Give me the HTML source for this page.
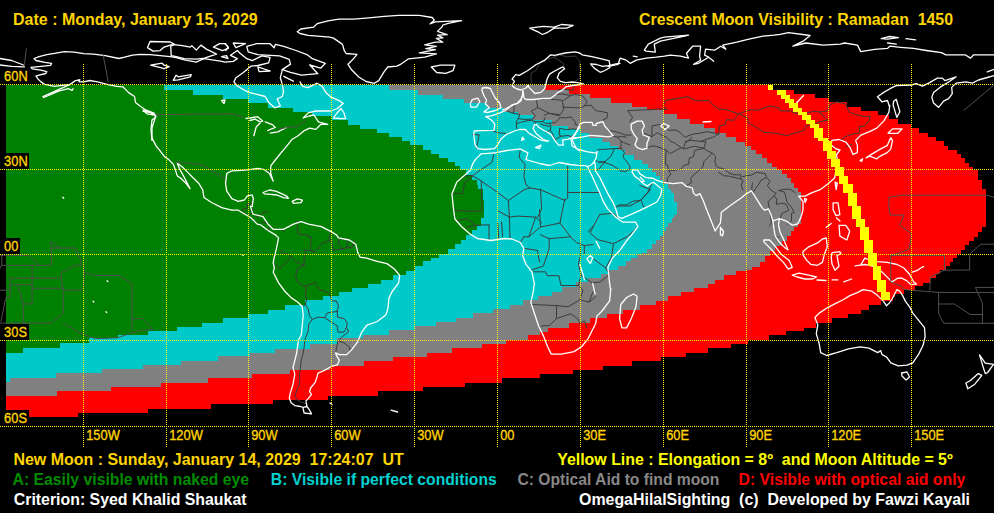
<!DOCTYPE html>
<html><head><meta charset="utf-8"><style>
html,body{margin:0;padding:0;background:#000;}
body{width:994px;height:513px;overflow:hidden;}
svg{display:block;}
text{font-family:"Liberation Sans",sans-serif;}
.t{font-size:16px;font-weight:bold;}
.lab{font-size:14px;fill:#ffd400;stroke:#ffd400;stroke-width:0.35;}
.w{stroke:#ffffff;stroke-width:1.3;}
.g{stroke:#505050;stroke-width:1;}
.b{stroke:#3c3c3c;stroke-width:1;}
</style></head><body>
<svg width="994" height="513" viewBox="0 0 994 513">
<rect width="994" height="513" fill="#000"/>
<g shape-rendering="crispEdges">
<polygon points="6,85 772,85 772,90 794,90 794,94 815,94 815,98 829,98 829,102 847,102 847,107 861,107 861,111 878,111 878,115 889,115 889,119 898,119 898,124 911,124 911,128 919,128 919,133 928,133 928,137 936,137 936,141 944,141 944,146 948,146 948,150 957,150 957,154 961,154 961,158 965,158 965,163 969,163 969,167 973,167 973,170 978,170 978,180 982,180 982,189 986,189 986,227 982,227 982,232 978,232 978,237 974,237 974,241 969,241 969,245 965,245 965,250 961,250 961,254 957,254 957,258 953,258 953,262 950,262 950,266 946,266 946,270 940,270 940,274 936,274 936,278 930,278 930,283 923,283 923,286 915,286 915,290 904,290 904,294 895,294 895,297 893,297 893,301 881,301 881,305 869,305 869,310 861,310 861,314 848,314 848,318 832,318 832,323 816,323 816,328 804,328 804,331 786,331 786,335 769,335 769,340 748,340 748,344 731,344 731,348 708,348 708,353 686,353 686,357 661,357 661,361 632,361 632,366 603,366 603,370 573,370 573,374 540,374 540,378 502,378 502,383 465,383 465,387 423,387 423,391 378,391 378,396 328,396 328,400 273,400 273,404 211,404 211,409 148,409 148,413 78,413 78,417 6,417" fill="#ff0000"/>
<polygon points="6,85 545,85 545,90 569,90 569,94 590,94 590,98 611,98 611,103 632,103 632,107 647,107 647,110 664,110 664,114 677,114 677,119 690,119 690,124 704,124 704,128 715,128 715,133 726,133 726,137 736,137 736,142 745,142 745,146 751,146 751,150 756,150 756,154 762,154 762,158 767,158 767,163 772,163 772,167 777,167 777,170 782,170 782,174 787,174 787,178 791,178 791,183 794,183 794,188 798,188 798,192 801,192 801,224 798,224 798,227 794,227 794,231 791,231 791,236 787,236 787,241 782,241 782,246 775,246 775,251 770,251 770,256 765,256 765,262 760,262 760,267 752,267 752,270 746,270 746,271 736,271 736,275 724,275 724,280 715,280 715,284 708,284 708,288 694,288 694,292 681,292 681,296 668,296 668,301 656,301 656,305 640,305 640,310 623,310 623,314 607,314 607,318 590,318 590,323 569,323 569,328 548,328 548,332 540,332 540,335 528,335 528,340 506,340 506,344 482,344 482,348 452,348 452,353 427,353 427,357 393,357 393,361 364,361 364,366 330,366 330,370 290,370 290,374 252,374 252,378 208,378 208,383 161,383 161,387 111,387 111,391 57,391 57,396 6,396" fill="#808080"/>
<polygon points="6,85 389,85 389,90 418,90 418,95 443,95 443,99 464,99 464,103 487,103 487,108 504,108 504,112 518,112 518,115 533,115 533,120 552,120 552,126 568,126 568,129 581,129 581,133 589,133 589,138 602,138 602,142 610,142 610,146 618,146 618,150 625,150 625,155 634,155 634,160 642,160 642,164 648,164 648,168 652,168 652,172 656,172 656,176 660,176 660,180 663,180 663,184 668,184 668,189 671,189 671,193 674,193 674,202 677,202 677,215 674,215 674,218 672,218 672,223 668,223 668,227 666,227 666,231 663,231 663,236 660,236 660,240 656,240 656,244 652,244 652,249 647,249 647,253 642,253 642,254 637,254 637,258 631,258 631,261 626,261 626,266 618,266 618,270 608,270 608,274 601,274 601,278 588,278 588,282 576,282 576,287 562,287 562,292 552,292 552,296 538,296 538,300 523,300 523,305 510,305 510,309 493,309 493,313 473,313 473,318 456,318 456,322 436,322 436,326 415,326 415,330 389,330 389,335 363,335 363,338 337,338 337,344 310,344 310,349 275,349 275,353 250,353 250,356 218,356 218,361 181,361 181,365 143,365 143,369 102,369 102,373 56,373 56,378 10,378 10,382 6,382" fill="#00cac9"/>
<polygon points="6,85 164,85 164,90 193,90 193,95 223,95 223,99 248,99 248,103 268,103 268,108 293,108 293,112 312,112 312,116 332,116 332,120 348,120 348,125 360,125 360,129 377,129 377,133 389,133 389,137 402,137 402,141 410,141 410,145 423,145 423,150 431,150 431,154 439,154 439,158 448,158 448,162 455,162 455,166 460,166 460,170 466,170 466,175 472,175 472,180 477,180 477,185 478,185 478,189 483,189 483,200 484,200 484,218 481,218 481,226 477,226 477,230 472,230 472,235 466,235 466,240 461,240 461,244 455,244 455,249 448,249 448,254 439,254 439,258 431,258 431,261 423,261 423,266 415,266 415,271 406,271 406,275 393,275 393,280 381,280 381,284 368,284 368,288 352,288 352,292 339,292 339,296 323,296 323,300 305,300 305,305 285,305 285,310 268,310 268,314 248,314 248,318 223,318 223,323 202,323 202,327 177,327 177,331 148,331 148,335 118,335 118,338 89,338 89,343 60,343 60,348 23,348 23,353 6,353" fill="#008000"/>
</g>
<g fill="none" stroke-linejoin="round" stroke-linecap="round">
<path d="M492.3,130.6 L497.3,132.6 L501.4,133.1 L506.1,133.4" class="b"/>
<path d="M504.2,108.6 L508.9,111.8 L513.3,113.2 L519.9,114.6 L518.3,118.6 L516.1,122.0 L516.4,123.7 L516.6,128.3 L518.0,129.4" class="b"/>
<path d="M536.5,100.6 L537.6,107.5 L531.3,111.2 L535.4,115.5 L533.2,118.9 L524.9,119.5 L518.3,118.6" class="b"/>
<path d="M517.2,102.3 L513.9,106.6 L514.1,109.5 L513.3,113.2" class="b"/>
<path d="M521.3,97.8 L524.6,98.1" class="b"/>
<path d="M550.9,99.2 L562.2,100.3 L563.0,104.6 L563.6,109.5 L560.3,114.6 L549.8,113.5 L544.3,110.9 L537.6,107.5" class="b"/>
<path d="M544.3,115.2 L549.2,113.2 L559.4,116.0" class="b"/>
<path d="M544.0,117.5 L544.8,118.9 L542.9,121.7 L535.4,121.7 L531.3,120.3 L526.3,120.9" class="b"/>
<path d="M560.3,117.5 L555.3,122.6 L549.8,123.2 L545.6,123.4 L542.9,121.7" class="b"/>
<path d="M560.3,117.5 L565.8,118.0 L570.8,116.9 L575.2,121.7 L575.2,124.6 L579.3,125.4" class="b"/>
<path d="M559.7,128.3 L566.4,129.7 L573.3,128.9 L576.3,129.4" class="b"/>
<path d="M559.2,133.7 L560.8,136.3 L569.1,135.4 L569.9,136.9 L574.6,134.6" class="b"/>
<path d="M549.8,123.2 L550.9,126.3 L550.3,130.3 L552.5,133.7 L553.9,137.4 L555.3,139.4 L560.5,136.6 L559.2,133.7 L559.7,128.3" class="b"/>
<path d="M540.4,123.7 L544.0,125.4 L549.8,126.3" class="b"/>
<path d="M545.9,132.0 L550.3,130.3" class="b"/>
<path d="M563.0,107.2 L571.9,107.5 L581.5,108.0 L584.3,105.8 L587.1,101.8 L582.9,96.1 L575.2,94.3 L570.8,95.5 L563.6,100.3" class="b"/>
<path d="M584.3,105.8 L591.2,105.2 L595.6,110.6 L602.8,111.8 L607.8,112.9 L607.0,118.0 L602.8,120.0" class="b"/>
<path d="M555.6,94.6 L560.8,93.8 L570.8,95.5" class="b"/>
<path d="M558.1,89.8 L564.4,89.2 L573.0,90.4 L574.6,84.9" class="b"/>
<path d="M574.6,81.8 L580.2,78.1 L579.1,73.2 L581.5,71.0 L579.1,66.1 L580.2,61.3 L576.6,57.8 L575.7,56.1" class="b"/>
<path d="M564.1,66.7 L562.8,62.7 L553.9,57.3 L559.2,54.7 L566.4,56.7 L575.7,56.1" class="b"/>
<path d="M528.8,86.1 L531.5,82.9 L531.0,78.9 L531.0,73.2 L536.0,70.4 L537.3,67.5 L541.8,60.4 L547.3,59.0 L553.9,57.3" class="b"/>
<path d="M516.4,123.7 L520.5,122.3 L523.5,121.7 L526.3,120.9" class="b"/>
<path d="M535.4,121.7 L534.9,124.6" class="b"/>
<path d="M472.7,134.6 L474.7,134.6 L479.3,134.9 L478.5,137.4 L478.0,141.1 L477.1,144.8 L476.9,148.3" class="b"/>
<path d="M611.9,136.0 L617.4,137.1 L621.0,141.1 L621.0,148.3" class="b"/>
<path d="M597.3,150.0 L600.9,149.4 L607.8,149.1 L614.4,148.6 L621.0,148.3" class="b"/>
<path d="M614.4,148.6 L611.1,156.0 L605.0,161.7 L599.5,162.2" class="b"/>
<path d="M595.6,160.3 L598.9,162.2 L605.0,161.7" class="b"/>
<path d="M605.0,162.5 L613.3,165.7 L620.8,171.1 L625.7,171.4 L629.9,169.1" class="b"/>
<path d="M594.0,170.5 L599.5,168.8 L602.3,164.5 L605.0,162.5" class="b"/>
<path d="M621.0,148.3 L624.4,152.5 L623.0,157.4 L625.7,160.3 L629.9,166.0 L629.9,169.1" class="b"/>
<path d="M615.5,207.6 L619.4,204.8 L626.6,205.0 L632.6,201.3 L640.9,200.2 L643.7,206.8" class="b"/>
<path d="M640.9,200.2 L650.6,189.6 L640.9,185.9 L639.8,185.4" class="b"/>
<path d="M607.8,130.6 L613.3,131.2 L618.8,132.6 L626.0,135.1 L631.3,135.1" class="b"/>
<path d="M617.4,137.1 L621.6,136.6 L626.0,137.1" class="b"/>
<path d="M621.0,141.1 L625.7,143.4 L629.9,144.8" class="b"/>
<path d="M646.2,148.0 L652.0,146.0 L656.1,146.3 L663.0,148.8 L666.3,150.0 L665.8,156.0 L665.5,164.5 L667.7,165.1 L668.5,170.2 L670.8,173.9 L667.2,178.8 L667.4,182.5" class="b"/>
<path d="M666.3,150.0 L669.9,153.7 L675.4,150.8 L681.0,147.7 L685.1,148.8 L690.6,147.1 L694.8,146.3 L703.9,148.3" class="b"/>
<path d="M703.9,148.3 L694.8,150.3 L693.4,156.8 L689.3,158.0 L688.7,164.2 L683.7,165.4 L681.0,169.1 L674.1,170.5 L668.5,170.2" class="b"/>
<path d="M712.2,153.1 L703.9,161.7 L703.1,166.0 L701.1,168.8 L693.4,175.1 L690.6,178.8 L691.5,182.5 L687.3,185.1" class="b"/>
<path d="M703.9,148.3 L705.8,150.0 L712.2,153.1 L715.5,156.5 L714.9,161.7 L716.3,166.0 L719.1,168.0 L721.0,168.2" class="b"/>
<path d="M718.5,172.2 L723.8,175.7 L729.3,176.2 L740.9,179.1 L740.9,174.8 L734.8,174.8 L729.3,173.1 L723.8,168.8 L721.0,168.2" class="b"/>
<path d="M742.6,176.5 L751.4,175.1 L756.9,172.2 L765.2,173.7 L766.6,177.4 L761.1,180.2 L758.6,184.5 L755.3,188.8 L753.1,193.1" class="b"/>
<path d="M740.9,179.1 L743.1,180.8 L741.2,185.4 L743.1,190.2" class="b"/>
<path d="M752.5,183.1 L751.7,188.8 L753.1,193.1" class="b"/>
<path d="M766.6,177.4 L769.9,181.1 L767.4,185.9 L772.1,191.1 L776.3,193.1 L773.8,196.2 L768.0,201.6 L769.4,208.8 L770.7,215.9 L771.3,224.4 L769.4,225.9" class="b"/>
<path d="M773.8,196.2 L776.8,198.8 L776.3,204.5 L781.5,203.0 L786.5,204.5 L788.7,210.2 L781.8,213.6 L779.9,219.6" class="b"/>
<path d="M779.0,190.5 L784.5,192.2 L785.9,197.3 L786.8,201.6 L791.5,207.3 L794.2,212.5 L791.5,213.3 L791.5,221.0 L787.3,224.4" class="b"/>
<path d="M779.0,190.5 L783.2,189.4 L790.1,189.1 L795.3,192.8" class="b"/>
<path d="M774.3,235.9 L777.6,237.6 L779.0,237.0" class="b"/>
<path d="M703.9,148.3 L705.8,141.7 L701.1,141.4 L707.2,138.9 L712.7,137.4 L718.8,134.0 L719.6,126.0 L725.2,124.6 L726.5,119.7 L733.5,120.3 L738.4,114.0" class="b"/>
<path d="M643.7,133.1 L652.0,136.6 L652.0,126.0 L658.9,124.6 L665.8,127.7 L668.5,130.3 L675.4,130.0 L679.6,132.0 L685.1,137.4 L687.9,136.0 L693.4,134.0 L700.3,133.1 L707.2,131.7 L718.8,134.0" class="b"/>
<path d="M652.0,136.6 L657.5,132.6 L663.0,136.0 L667.2,137.4 L669.9,140.9 L675.4,143.4 L681.0,147.7" class="b"/>
<path d="M685.1,141.7 L690.6,140.3 L701.1,141.4" class="b"/>
<path d="M683.7,148.0 L685.1,143.1 L692.0,137.4" class="b"/>
<path d="M629.9,121.7 L632.6,117.5 L627.7,110.6 L639.5,110.0 L649.2,109.8 L658.9,108.9 L667.2,109.5 L663.0,106.0 L665.8,100.3 L676.8,98.6 L687.9,96.6 L693.4,99.8 L700.3,100.9 L708.6,100.3 L712.7,104.6 L718.3,108.9 L725.2,109.5 L729.3,110.6 L738.4,114.0" class="b"/>
<path d="M738.4,114.0 L740.4,113.2 L745.9,110.9 L751.4,109.8 L757.8,110.3 L767.4,106.9 L770.5,106.0 L779.0,108.0 L780.4,110.9 L790.1,110.9 L797.0,113.7 L802.5,114.0 L813.5,111.2 L819.6,112.0" class="b"/>
<path d="M819.6,112.0 L827.4,110.9 L830.1,104.6 L837.0,101.8 L845.3,103.8 L849.5,112.3 L857.7,115.2 L864.6,116.6 L870.2,116.3 L869.3,120.3 L864.6,126.0 L859.1,126.6 L859.7,131.7 L858.0,133.4" class="b"/>
<path d="M739.8,114.0 L747.3,118.0 L748.6,123.2 L754.2,126.0 L763.8,132.3 L773.5,132.9 L787.3,135.7 L792.3,133.7 L803.9,130.6 L806.1,126.0 L813.5,124.9 L819.1,122.0 L823.2,120.9 L827.9,120.3 L824.6,117.5 L819.6,112.0" class="b"/>
<path d="M840.6,140.6 L845.3,136.6 L850.8,134.6 L855.5,133.4 L858.0,133.4" class="b"/>
<path d="M845.6,146.8 L849.5,145.1 L851.7,144.3" class="b"/>
<path d="M297.9,221.6 L297.1,225.9 L298.4,234.4 L304.0,234.4 L310.9,236.7 L310.9,243.0 L310.0,248.7 L312.2,251.0" class="b"/>
<path d="M279.7,250.4 L283.2,253.0 L288.8,254.4 L295.7,261.5 L304.0,265.8 L304.2,257.3 L305.6,251.5 L304.0,249.8 L312.2,251.0" class="b"/>
<path d="M275.5,264.1 L279.1,268.7 L287.4,261.5 L289.6,257.0" class="b"/>
<path d="M331.6,230.1 L328.8,238.7 L330.8,240.1 L321.9,243.6 L319.2,247.3 L315.0,251.5 L312.2,251.0" class="b"/>
<path d="M339.3,237.3 L338.5,244.4 L342.6,248.7 L346.8,247.8 L348.2,238.7" class="b"/>
<path d="M354.2,241.6 L352.3,247.3 L346.8,247.8" class="b"/>
<path d="M330.8,240.1 L333.0,250.1 L342.6,248.7" class="b"/>
<path d="M304.0,265.8 L297.1,268.7 L295.7,275.8 L297.1,281.5 L302.6,285.8 L306.7,285.8 L305.3,294.3 L306.7,300.0 L305.3,304.3 L302.9,306.6" class="b"/>
<path d="M306.7,285.8 L315.0,282.4 L316.9,285.8 L320.5,290.1 L328.8,292.9 L330.8,297.2 L331.6,300.9 L336.3,300.9 L338.5,305.8 L337.1,311.5" class="b"/>
<path d="M305.3,304.3 L308.1,308.6 L309.5,315.7 L312.2,319.4 L317.8,317.2 L324.7,317.7 L327.4,312.9 L337.1,311.5" class="b"/>
<path d="M324.7,317.7 L331.6,322.3 L337.1,325.7 L338.2,332.3 L344.0,332.0 L346.5,327.4 L347.3,322.9 L344.0,318.6 L337.7,317.2 L337.1,311.5" class="b"/>
<path d="M346.5,327.4 L348.7,332.0 L342.6,336.3 L338.2,340.6 L344.0,342.8 L349.5,347.1 L349.8,350.5" class="b"/>
<path d="M338.2,340.6 L336.6,347.1 L336.0,351.4" class="b"/>
<path d="M312.2,319.4 L308.9,324.0 L308.1,331.4 L304.8,340.0 L304.0,348.5 L302.9,354.3 L301.2,360.0 L300.4,368.5 L299.3,377.1 L299.8,382.8 L297.1,389.9 L294.8,395.6 L297.1,399.9 L304.0,403.3 L307.8,404.2" class="b"/>
<path d="M242.6,213.0 L243.2,208.8 L247.3,208.5 L247.3,203.6 L250.9,203.6 L253.4,201.6" class="b"/>
<path d="M250.9,203.6 L250.9,209.0 L253.7,209.6" class="b"/>
<path d="M248.7,215.3 L250.7,213.3 L254.8,214.7" class="b"/>
<path d="M256.2,217.3 L260.3,215.0 L263.9,212.2 L267.5,211.6" class="b"/>
<path d="M260.6,222.4 L266.1,223.3" class="b"/>
<path d="M268.1,230.7 L269.2,227.3" class="b"/>
<path d="M283.5,229.6 L284.1,231.9" class="b"/>
<path d="M493.8,153.8 L491.9,162.5 L481.2,169.4 L473.4,175.2 L464.6,176.2" class="b"/>
<path d="M473.4,176.2 L481.2,181.0 L496.8,191.8 L508.4,200.5 L524.0,189.8 L529.9,187.9 L540.6,189.8" class="b"/>
<path d="M520.1,150.8 L519.2,157.7 L525.0,164.5 L524.0,176.2 L526.0,184.9 L529.9,187.9" class="b"/>
<path d="M540.6,189.8 L565.0,200.5 L567.7,198.0 L567.7,166.3" class="b"/>
<path d="M567.7,192.5 L599.4,192.5" class="b"/>
<path d="M540.6,189.8 L541.6,209.3 L537.7,217.1" class="b"/>
<path d="M508.4,200.5 L509.4,217.1 L498.7,211.2" class="b"/>
<path d="M481.2,181.0 L482.1,211.2 L466.6,211.2" class="b"/>
<path d="M452.9,193.7 L462.7,193.7 L464.6,183.0 L473.4,176.2" class="b"/>
<path d="M509.4,217.1 L517.2,216.1 L535.7,217.1 L541.6,222.9" class="b"/>
<path d="M564.8,198.8 L559.9,223.1 L570.7,236.8 L576.5,242.6 L584.3,245.5 L593.1,244.6" class="b"/>
<path d="M539.5,209.5 L540.5,227.0 L528.8,236.8 L523.9,236.8" class="b"/>
<path d="M540.5,227.0 L559.9,223.1" class="b"/>
<path d="M540.5,234.8 L549.2,238.7 L570.7,236.8" class="b"/>
<path d="M549.2,238.7 L549.2,248.4 L543.4,266.0 L531.7,269.9" class="b"/>
<path d="M523.9,248.4 L537.5,250.4 L539.5,262.1" class="b"/>
<path d="M533.6,271.8 L545.3,271.8 L547.3,275.7 L559.0,275.7 L560.9,285.5 L578.4,285.5" class="b"/>
<path d="M580.4,245.5 L580.4,256.2 L578.4,264.0 L581.0,275.0 L578.4,285.5" class="b"/>
<path d="M594.0,225.1 L590.1,232.9 L597.9,239.7 L613.5,243.6 L627.1,236.8 L636.9,228.0" class="b"/>
<path d="M599.9,214.4 L613.5,213.4 L617.4,217.3" class="b"/>
<path d="M599.9,214.4 L594.0,225.1 L588.2,231.9" class="b"/>
<path d="M613.5,243.6 L611.6,257.2 L605.7,267.9" class="b"/>
<path d="M594.0,259.2 L605.7,267.9 L607.7,271.8" class="b"/>
<path d="M584.3,245.5 L584.3,254.3" class="b"/>
<path d="M581.0,275.0 L592.0,283.0 L600.0,282.0 L607.7,276.0" class="b"/>
<path d="M531.9,304.5 L556.5,305.6" class="b"/>
<path d="M556.5,305.6 L568.2,306.8 L579.9,299.8 L589.2,302.1 L596.2,296.3" class="b"/>
<path d="M556.5,305.6 L556.5,318.5 L549.5,325.5 L541.0,326.0" class="b"/>
<path d="M556.5,318.5 L570.5,313.8 L577.5,318.5 L579.9,323.2 L584.5,320.8 L586.9,327.9" class="b"/>
<path d="M579.9,299.8 L583.0,290.0 L578.4,285.5" class="b"/>
<path d="M589.2,302.1 L592.0,294.0 L595.0,290.0" class="b"/>
<path d="M452.9,210.0 L466.6,211.2" class="b"/>
<path d="M456.5,220.5 L468.0,219.0 L475.0,225.0" class="b"/>
<path d="M466.0,227.0 L480.0,225.0 L489.0,224.9" class="b"/>
<path d="M489.0,224.9 L489.0,240.5" class="b"/>
<path d="M497.7,222.9 L498.7,238.5" class="b"/>
<path d="M501.6,222.0 L502.6,236.6" class="b"/>
<path d="M509.4,217.1 L510.0,238.5" class="b"/>
<path d="M523.9,236.8 L520.3,242.5" class="b"/>
<path d="M535.7,217.1 L528.8,236.8" class="b"/>
<path d="M617.0,206.0 L630.0,206.0 L641.0,200.0" class="b"/>
<path d="M641.0,200.0 L648.0,192.0 L652.0,183.0" class="b"/>
<path d="M814.9,317.5 L817.8,324.8 L816.3,333.6 L819.2,343.8 L820.7,352.6 L826.6,355.5 L836.8,352.6 L848.5,348.8 L860.2,346.8 L869.0,348.2 L877.7,352.6 L880.7,350.6 L882.1,354.7 L886.5,357.0 L890.9,362.8 L898.2,365.8 L907.0,365.2 L912.8,362.8 L918.7,354.1 L923.1,345.3 L925.1,336.5 L924.5,327.7 L918.7,320.4 L912.8,313.1 L909.9,307.3 L905.5,301.4 L902.6,295.6 L899.7,291.2 L896.8,289.7 L892.4,298.5 L889.4,302.9 L886.5,305.8 L883.6,301.4 L877.7,295.6 L871.9,291.2 L863.1,289.7 L857.3,292.6 L849.9,295.6 L842.6,300.0 L836.8,302.9 L828.0,307.3 L819.2,313.1 Z" class="w"/>
<path d="M901.5,373.0 L907.0,372.0 L909.5,377.0 L906.0,380.0 L902.0,376.0 Z" class="w"/>
<path d="M0.0,58.5 L11.7,60.5 L23.4,65.0" class="w"/>
<path d="M0.0,65.0 L11.7,66.3 L24.4,66.9" class="w"/>
<path d="M26.3,48.8 L24.4,65.3" class="g"/>
<path d="M31.2,67.3 L40.9,66.3 L50.7,65.3 L51.6,63.4 L44.8,62.4 L36.0,60.5 L34.1,58.5 L39.0,56.6 L46.8,54.6 L54.6,53.3 L64.3,51.7 L74.1,52.1 L83.8,53.6 L93.5,54.2 L105.2,55.6 L118.9,58.5 L124.7,57.2 L132.5,55.2 L140.0,54.3 L150.1,54.6 L160.1,55.6 L170.2,56.6 L176.2,57.6 L183.3,59.6 L188.3,60.7 L196.3,62.2 L200.4,60.2 L204.4,58.6 L210.4,59.6 L220.5,61.2 L225.0,62.1 L233.2,61.4 L237.3,58.7 L230.5,55.3 L237.3,50.5 L240.0,53.2 L246.8,58.7 L252.3,60.7 L261.9,55.9 L270.1,57.3 L268.7,62.8 L257.8,65.5 L250.9,66.2 L242.7,73.0 L235.9,77.8 L233.9,81.9 L237.3,86.0 L245.5,90.8 L250.0,92.7 L265.2,96.5 L269.0,102.8 L274.7,107.8 L280.4,105.9 L277.2,99.0 L282.3,96.5 L283.5,91.4 L282.3,84.6 L280.3,77.8 L282.3,69.6" class="w"/>
<path d="M31.2,67.3 L32.2,68.8 L40.9,70.2 L46.8,71.6 L45.8,73.5 L39.0,75.1 L36.0,76.1 L38.0,79.0 L40.9,81.9 L44.8,84.4 L54.6,86.4 L70.2,84.4 L75.0,80.9 L79.9,79.6 L78.9,81.9 L83.8,81.9 L89.7,80.5 L97.5,81.9 L109.1,84.8 L116.9,86.4 L122.8,86.8 L128.6,92.6 L134.5,96.5 L135.5,102.4 L140.3,106.3 L146.2,110.2 L154.0,113.1 L155.9,117.0 L152.0,119.9 L151.0,129.7 L152.0,140.0" class="w"/>
<path d="M70.2,84.4 L58.5,89.7 L42.9,96.5 L43.9,97.5 L58.5,91.1 L68.2,88.7 L72.1,90.3 L73.1,88.7" class="w"/>
<path d="M103.3,55.6 L108.2,81.9" class="g"/>
<path d="M147.5,47.6 L150.1,41.5 L170.2,42.0 L174.2,44.1 L170.2,45.1 L164.1,47.1 L160.1,50.6 L153.1,51.1 Z" class="w"/>
<path d="M170.7,46.1 L174.2,44.6 L182.3,45.6 L190.3,47.1 L191.8,45.6 L196.3,50.1 L200.9,45.1 L206.4,49.1 L216.5,54.1 L204.4,58.1 L196.3,59.1 L184.3,58.6 L176.2,56.6 L171.2,55.6 Z" class="w"/>
<path d="M213.4,47.1 L219.5,43.6 L225.5,43.6 L228.5,48.1 L222.5,50.6 Z" class="w"/>
<path d="M221.5,56.6 L226.5,55.6 L228.0,58.6 Z" class="w"/>
<path d="M150.6,65.2 L162.1,63.2 L164.1,65.2 L169.2,66.7 L164.1,68.7 L158.6,67.2 Z" class="w"/>
<path d="M173.2,80.3 L176.2,75.2 L178.2,76.8 L191.3,74.7 L190.3,76.8 L178.2,79.8 Z" class="w"/>
<path d="M225.0,43.7 L228.4,47.1 L225.7,50.5" class="w"/>
<path d="M233.2,43.0 L245.5,43.7 L235.9,47.7 Z" class="w"/>
<path d="M246.8,46.4 L256.4,43.7 L270.1,43.7 L274.1,47.7 L275.5,44.3 L283.7,46.4 L296.0,50.5 L306.9,54.6 L312.4,58.7 L325.3,63.4 L320.6,68.2 L309.6,64.8 L317.8,73.7 L301.5,75.1 L290.5,72.3 L282.3,69.6 L290.5,64.1 L289.2,59.4 L279.6,55.9 L270.1,55.3 L257.8,54.6 L248.2,51.8 Z" class="w"/>
<path d="M257.8,66.9 L270.1,71.0 L259.1,71.6 Z" class="w"/>
<path d="M283.7,76.4 L293.3,81.2" class="w"/>
<path d="M300.1,81.9 L302.5,86.3 L308.2,87.6 L317.1,83.2 L322.2,86.3 L326.0,92.7 L331.0,97.1 L338.6,100.3 L343.0,103.4" class="w"/>
<path d="M297.2,31.7 L300.9,29.0 L313.5,27.2 L317.2,23.6 L328.0,20.9 L338.9,19.1 L353.4,19.1 L366.1,18.1 L384.2,16.3 L398.7,15.4 L419.3,15.4 L432.2,17.5 L434.3,20.2 L430.0,23.9 L435.4,21.8 L461.6,20.7 L448.2,23.4 L442.9,25.0 L441.8,27.1 L437.5,31.4 L447.2,34.7 L437.5,35.2 L442.9,37.9 L436.4,38.4 L442.9,42.2 L435.4,42.2 L424.7,44.8 L436.4,46.4 L425.7,48.6 L435.4,49.7 L419.3,52.9 L436.4,53.9 L424.7,57.2 L408.6,58.8 L400.0,64.7 L396.8,66.1 L387.8,67.0 L384.2,71.6 L378.7,80.6 L374.2,83.3 L366.1,81.5 L358.8,77.0 L351.6,69.8 L348.0,64.3 L353.4,58.9 L357.0,54.4 L346.1,53.5 L344.3,50.7 L342.5,44.4 L333.5,38.1 L329.8,37.2 L308.1,35.4 L300.0,33.5 Z" class="w"/>
<path d="M431.3,67.0 L440.3,65.2 L454.8,65.2 L453.0,70.7 L445.7,73.4 L436.7,72.5 Z" class="w"/>
<path d="M529.7,28.1 L543.3,26.3 L554.2,27.2 L561.4,24.5 L573.2,25.4 L566.8,28.1 L554.2,28.1 L546.9,32.7 L542.4,34.5 L537.9,31.8 Z" class="w"/>
<path d="M513.9,87.4 L512.1,85.0 L514.5,81.4 L512.1,79.0 L515.7,74.7 L519.3,75.4 L527.8,70.5 L536.2,64.5 L544.7,60.3 L550.7,54.8 L554.3,55.4 L565.2,53.0 L574.9,51.8 L579.7,53.0 L582.1,54.8 L591.8,56.6 L602.6,59.1 L609.3,60.9 L609.9,67.5 L605.0,70.5 L600.2,72.3 L594.2,68.1 L590.5,63.9 L596.6,64.5 L602.6,66.3 L608.7,65.7 L615.9,63.9 L620.0,63.3" class="w"/>
<path d="M513.9,87.4 L517.0,89.0 L521.0,90.0 L526.0,88.0 L528.4,85.0 L529.0,87.4 L535.0,93.5 L541.0,92.3 L544.7,88.6 L545.9,83.8 L547.1,79.0 L549.5,74.1 L555.5,70.5 L562.8,66.9 L564.6,68.7 L559.2,72.9 L557.3,77.8 L560.4,81.4 L565.2,82.6 L572.4,82.0 L577.3,82.6 L583.3,83.8" class="w"/>
<path d="M581.0,84.5 L572.0,85.5 L565.8,86.8 L562.8,89.8 L558.0,92.3 L555.5,94.7 L550.7,98.3 L542.3,98.3 L533.8,99.5 L526.0,99.5 L524.1,98.3 L522.9,91.0 L522.3,95.9 L521.1,100.7 L518.1,103.1 L512.1,105.5 L507.2,108.0 L502.4,110.0" class="w"/>
<path d="M470.2,103.7 L472.3,99.6 L477.7,98.2 L479.8,101.6 L476.4,107.1 L470.9,107.1 Z" class="w"/>
<path d="M481.8,90.0 L483.9,95.5 L486.6,100.2 L485.3,103.7 L489.4,107.7 L483.9,111.8 L487.3,112.5 L495.5,110.5 L501.0,107.7 L499.6,103.0 L494.8,97.5 L492.1,92.0 L490.5,88.5 L486.0,87.5 L482.5,88.0 Z" class="w"/>
<path d="M485.9,116.6 L491.4,115.9 L499.6,113.2 L506.4,109.8 L511.9,105.0 L517.3,103.0 L520.1,100.2 L522.8,95.5 L522.9,91.0" class="w"/>
<path d="M485.9,116.6 L491.4,120.0 L494.8,124.1 L494.1,130.3 L480.5,130.7 L474.3,131.0 L473.7,135.0 L475.0,144.6 L477.7,148.7 L485.0,149.5 L494.1,148.7 L496.9,146.0 L501.0,139.1 L506.4,134.4 L514.6,131.0 L519.5,129.5 L525.3,129.5 L529.2,133.4 L534.1,136.3 L540.9,140.2 L546.8,141.2" class="w"/>
<path d="M548.7,140.7 L546.8,141.0 L542.9,139.2 L540.0,136.8 L536.1,133.4 L533.1,128.5 L534.6,124.6 L536.5,124.4 L539.0,127.5 L543.9,130.5 L548.7,132.9 L551.7,135.3 L554.6,140.2 L558.5,145.1 L563.4,145.1 L562.4,140.2 L568.2,139.2 L572.1,137.3 L578.9,128.5 L580.0,126.6" class="w"/>
<path d="M572.1,137.3 L573.1,142.2 L577.0,149.0 L580.0,150.9" class="w"/>
<path d="M535.5,147.5 L541.0,145.2 L539.5,148.5 Z" class="w"/>
<path d="M522.4,137.2 L524.2,139.2 L521.6,140.5 Z" class="w"/>
<path d="M494.8,152.8 L481.2,153.8 L475.3,159.6 L472.4,164.5 L470.5,170.3 L464.6,175.2 L456.8,182.0 L452.0,193.7 L452.9,203.4 L453.9,212.2 L454.9,219.0 L461.7,226.8 L469.5,233.6 L477.3,238.5 L490.9,240.5 L504.5,238.5 L512.1,239.0 L520.3,242.5 L523.8,248.4 L522.6,255.4 L526.1,264.7 L531.9,271.8 L534.3,283.4 L533.1,292.8 L530.8,302.1 L533.6,311.0 L538.7,326.3 L543.7,336.4 L547.5,346.5 L551.3,354.1 L561.4,354.1 L574.1,351.6 L581.7,346.5 L588.0,338.9 L591.8,331.3 L595.6,323.7 L596.9,316.1 L602.0,311.0 L609.6,300.9 L610.8,288.3" class="w"/>
<path d="M494.8,152.8 L507.0,150.5 L520.1,148.9 L527.9,152.8 L526.0,159.6 L539.6,163.5 L549.4,165.5 L559.1,162.5 L570.0,164.5 L578.0,165.3 L584.9,165.7 L587.5,166.5" class="w"/>
<path d="M587.5,166.5 L589.0,170.0 L592.2,176.2 L596.0,184.8 L600.0,193.3 L603.1,201.1 L607.7,208.9 L612.4,213.6 L616.3,217.5 L622.9,222.2 L635.7,222.2 L637.9,226.5 L631.5,235.1 L627.2,240.0 L619.6,250.7 L612.6,257.7 L607.9,267.1 L609.1,278.8 L610.3,288.1" class="w"/>
<path d="M620.8,304.5 L626.6,297.5 L633.6,294.0 L637.1,296.3 L636.0,306.8 L631.3,318.5 L626.6,327.9 L622.0,327.9 L619.6,318.5 Z" class="w"/>
<path d="M586.9,258.9 L590.4,255.4 L592.7,257.7 L590.4,263.6 Z" class="w"/>
<path d="M579.9,264.7 L582.2,271.8 L584.5,279.9" class="w"/>
<path d="M592.7,283.4 L595.1,294.0" class="w"/>
<path d="M596.2,241.4 L599.7,248.4" class="w"/>
<path d="M587.5,166.5 L590.7,165.4 L593.9,162.2 L596.1,157.9 L597.2,151.4 L596.2,153.1 L587.8,151.9 L578.1,149.5 L572.1,145.9 L570.9,138.6 L575.7,138.0" class="w"/>
<path d="M595.3,170.7 L600.0,177.7 L604.6,187.1 L608.5,194.9 L613.2,202.7 L616.3,210.5 L617.9,216.7 L621.8,218.3 L631.1,214.4 L641.6,209.6 L649.2,205.8 L656.8,202.0 L660.6,195.6 L661.8,189.3 L658.0,186.1 L653.6,182.3 L651.7,183.0 L647.3,186.1 L641.6,182.3 L639.0,179.2 L635.2,176.6 L632.0,172.2 L632.7,169.7" class="w"/>
<path d="M595.3,170.7 L595.3,165.3 L594.5,161.4" class="w"/>
<path d="M632.7,169.7 L637.7,170.3 L640.3,174.1 L645.4,177.3 L653.6,178.5 L656.8,180.4 L663.1,182.3 L673.2,183.6 L682.1,182.7 L685.9,186.1 L692.3,188.0 L693.5,193.1 L696.1,195.6 L700.0,193.7 L703.3,200.8 L706.5,209.3 L710.8,220.0 L715.1,230.8" class="w"/>
<path d="M579.9,124.1 L583.5,122.3 L592.0,122.3 L593.2,125.4 L596.2,125.4 L596.2,123.5 L602.9,121.7 L604.7,126.0 L608.3,130.2 L613.1,135.6 L608.3,136.8 L598.6,136.0 L590.2,135.4 L582.9,136.8 L575.7,138.0 L572.1,138.6 L575.7,133.8 Z" class="w"/>
<path d="M631.2,124.1 L637.3,121.1 L642.1,121.1 L644.5,126.0 L642.1,130.2 L643.3,135.0 L649.3,137.4 L646.9,143.5 L646.9,148.3 L642.1,149.5 L637.3,147.7 L634.9,144.7 L637.3,138.6 L633.6,133.8 L631.2,129.0 Z" class="w"/>
<path d="M660.8,126.0 L663.8,123.5 L669.3,126.0 L665.0,129.6 Z" class="w"/>
<path d="M715.1,230.8 L720.4,222.9 L721.4,212.2 L730.0,205.8 L740.8,198.3 L746.1,194.0 L751.5,190.8 L756.8,199.3 L762.2,207.9 L764.3,210.1 L768.6,209.0 L770.8,214.3 L772.9,220.8 L774.0,229.4 L775.1,235.8 L779.4,242.2 L784.7,247.6 L787.9,249.7" class="w"/>
<path d="M772.9,220.8 L779.4,218.6 L785.8,220.8 L792.2,225.1 L797.6,224.0 L800.8,217.6 L803.0,210.1 L803.0,201.5 L798.7,196.1 L805.1,196.1 L811.5,192.9 L820.1,189.7 L827.5,184.2 L834.6,178.1 L836.0,170.0 L838.0,162.0 L836.3,155.0 L840.0,150.0 L836.3,149.0 L831.0,145.0 L831.9,140.4 L838.9,139.5 L846.0,142.1 L850.4,148.2 L853.0,154.4 L857.4,152.6 L857.4,145.6 L855.6,140.4 L860.9,135.1 L869.6,131.6 L876.7,128.1 L883.7,121.1 L888.9,112.3 L889.8,105.3 L889.3,106.2 L887.5,100.5 L881.9,101.8 L877.5,96.8 L883.7,92.4 L890.0,88.7 L896.2,85.6 L911.2,85.0 L916.2,83.7 L922.4,86.2 L928.6,83.1 L937.4,78.1 L942.4,78.1 L944.9,80.6 L956.1,76.8 L949.8,81.2 L939.9,87.4 L933.6,92.4 L931.8,97.4 L933.6,103.0 L938.6,107.4 L943.6,101.2 L948.6,98.7 L952.3,93.7 L951.7,87.4 L956.1,83.1 L966.1,81.8 L972.3,83.1 L978.5,80.0 L987.3,77.5 L994.0,75.6" class="w"/>
<path d="M987.3,71.9 L994.0,69.4" class="w"/>
<path d="M963.6,110.5 L994.0,85.0" class="g"/>
<path d="M720.4,227.2 L723.6,231.5 L722.5,235.8 L720.4,234.7 Z" class="w"/>
<path d="M804.5,198.3 L806.7,199.3 L805.0,202.5 Z" class="w"/>
<path d="M835.1,182.2 L837.3,183.2 L836.2,189.7 Z" class="w"/>
<path d="M893.7,101.2 L896.2,99.3 L899.9,111.8 L896.8,117.4 L893.1,104.9 Z" class="w"/>
<path d="M888.0,133.3 L892.5,128.9 L902.1,128.9 L897.7,133.3 Z" class="w"/>
<path d="M866.1,157.9 L871.4,154.4 L880.2,149.1 L887.2,145.6 L890.7,137.7 L892.5,140.4 L890.7,149.1 L887.2,152.6 L880.2,156.1 L876.7,158.8 L869.6,156.1 Z" class="w"/>
<path d="M860.0,160.5 L862.6,158.8 L861.8,161.4 Z" class="w"/>
<path d="M608.0,66.3 L618.1,64.3 L620.1,58.2 L626.2,60.2 L630.2,63.3 L636.2,60.2 L646.3,58.2 L656.3,57.2 L664.4,56.2 L670.4,55.2 L680.5,56.2 L688.5,58.2 L686.5,53.2 L692.6,46.2 L700.6,46.2 L699.6,56.2 L700.6,60.2 L693.6,64.3 L698.6,63.3 L708.7,57.2 L713.7,61.2 L708.7,57.2 L704.6,55.2 L705.6,49.2 L714.7,50.2 L720.7,46.2 L725.8,49.2 L722.7,45.2 L736.8,42.1 L748.9,39.1 L763.0,36.1 L774.0,35.1 L780.0,34.4 L788.6,32.7 L810.1,35.5 L803.7,40.8 L792.9,46.2 L805.8,43.0 L823.1,45.1 L840.3,44.1 L844.6,43.0 L857.5,45.1 L860.7,51.6 L874.7,49.4 L887.6,48.4 L889.8,46.2 L900.6,47.3 L913.5,48.4 L926.4,50.5 L941.5,52.7 L945.8,54.8 L965.1,54.8 L970.5,58.1 L973.7,54.8 L994.0,54.8" class="w"/>
<path d="M644.3,50.2 L648.3,44.1 L660.4,38.1 L664.4,37.1 L688.5,35.1 L684.5,36.1 L660.4,41.1 L654.3,44.1 L655.3,52.2 L646.3,51.2 Z" class="w"/>
<path d="M881.2,38.7 L889.8,36.5 L898.4,37.6 L887.6,39.1 Z" class="w"/>
<path d="M905.9,38.7 L915.6,39.8" class="w"/>
<path d="M887.6,43.0 L896.3,44.1" class="w"/>
<path d="M633.2,56.2 L637.2,56.8" class="w"/>
<path d="M152.0,140.0 L152.0,137.9 L155.8,145.5 L160.9,151.8 L164.7,156.9 L168.5,159.4 L173.5,164.5 L176.1,172.1 L177.3,175.9 L181.1,178.5 L186.2,183.5 L190.0,188.6 L188.7,186.1 L184.9,178.5 L179.9,169.6 L177.3,163.2 L182.4,167.0 L187.5,172.1 L192.5,177.2 L198.9,183.5 L202.7,189.9 L204.0,197.5 L211.6,202.5 L221.7,207.6 L231.8,210.2 L238.2,210.2 L244.5,214.0 L250.9,217.8 L257.2,224.1 L260.5,224.8 L268.1,230.5 L275.7,235.1" class="w"/>
<path d="M152.0,137.9 L152.0,127.7 L154.5,120.1 L155.8,115.1 L150.7,112.5 L143.1,111.3" class="w"/>
<path d="M143.1,110.0 L150.7,112.5 L154.5,115.1 L147.0,113.8 Z" class="w"/>
<path d="M155.8,114.6 L231.8,113.8 L243.0,117.5" class="g"/>
<path d="M176.1,162.0 L198.9,164.5 L206.5,167.0 L221.7,177.2 L225.5,179.7" class="g"/>
<path d="M252.1,206.3 L253.4,198.7 L252.1,194.9 L247.1,196.2 L244.5,200.0 L238.2,201.3 L231.8,198.7 L226.8,191.1 L225.5,183.5 L226.8,173.4 L231.8,170.9 L242.0,170.3 L249.6,169.6 L258.0,168.4 L264.3,169.7 L269.4,173.5 L271.9,178.5 L273.2,181.1 L270.7,173.5 L270.7,165.9 L275.7,159.5 L280.8,153.2 L287.1,145.6 L292.2,139.2 L298.1,135.7 L304.4,130.6 L309.5,128.1 L315.8,129.4 L320.9,124.3 L327.8,124.3 L318.4,121.8 L313.9,114.8 L309.0,116.0 L303.2,118.0 L308.2,112.9 L315.8,111.0 L331.0,111.0 L337.3,108.5 L343.0,103.4" class="w"/>
<path d="M252.1,206.3 L250.4,206.4 L252.9,214.1 L263.0,216.6 L268.1,224.2 L273.2,229.3 L283.3,229.3 L293.5,224.2 L301.1,221.7 L308.7,224.2 L321.4,226.7 L331.5,231.8 L336.6,235.1" class="w"/>
<path d="M333.5,118.0 L337.0,113.0 L341.1,108.5 L344.0,113.0 L345.6,118.6 L340.0,118.5 Z" class="w"/>
<path d="M246.0,118.5 L250.0,118.0 L257.6,116.7 L262.7,121.1 L260.1,121.8 L255.1,119.2 L250.0,120.5" class="w"/>
<path d="M253.8,135.7 L256.3,126.8 L260.1,123.0" class="w"/>
<path d="M265.2,121.8 L272.8,124.9 L275.3,127.5 L270.3,129.4 L267.7,130.6" class="w"/>
<path d="M270.3,133.2 L277.8,131.9 L286.7,127.5" class="w"/>
<path d="M279.0,128.7 L298.1,126.2 L305.7,120.5" class="g"/>
<path d="M263.0,192.5 L269.4,190.0 L275.7,191.2 L282.1,193.8 L287.1,196.3 L288.4,198.3 L283.3,197.6 L277.0,195.0 L270.7,194.3 L264.3,193.8 Z" class="w"/>
<path d="M292.2,201.4 L297.3,198.8 L302.4,200.1 L301.1,202.6 L293.5,203.4 Z" class="w"/>
<path d="M275.7,235.1 L278.6,237.9 L276.4,248.6 L274.3,257.2 L273.2,262.5 L274.3,267.9 L273.2,272.2 L278.6,282.9 L285.0,291.5 L291.4,297.9 L297.9,302.2 L302.2,306.5 L303.2,315.0 L302.2,325.8 L301.3,335.0 L298.5,339.8 L296.7,352.8 L293.0,367.6 L294.8,374.1 L293.0,384.3 L290.2,393.5 L289.3,398.1 L291.1,402.8 L294.8,405.6 L300.4,406.5 L303.1,407.4 L306.9,406.5 L305.9,400.9 L307.8,399.1 L311.5,394.4 L309.6,391.7 L310.6,388.0 L315.2,382.4 L317.0,376.9 L318.0,373.1 L324.4,370.4 L330.9,366.7 L337.4,364.8 L339.3,360.2 L336.5,355.6 L335.6,352.8 L339.3,354.6 L346.7,354.6 L352.2,349.1 L357.8,341.7 L361.5,332.4 L367.0,325.0 L368.6,324.7 L377.2,321.5 L385.8,315.0 L387.9,308.6 L389.0,297.9 L392.2,291.5 L398.6,282.9 L399.7,275.4 L394.4,269.0 L386.9,263.6 L377.2,261.4 L366.5,258.2 L360.1,257.2 L357.9,252.9 L355.8,244.3 L349.3,240.0 L338.6,237.9 L336.6,235.1" class="w"/>
<path d="M303.1,408.3 L304.1,413.0 L311.5,413.9 L309.6,410.2 L306.9,406.5" class="w"/>
<path d="M330.0,403.0 L332.0,404.5" class="w"/>
<path d="M391.1,410.2 L397.6,412.0" class="w"/>
<path d="M787.9,249.7 L786.0,245.0 L783.4,239.0 L780.0,232.0 L778.5,225.0 L779.4,218.6" class="w"/>
<path d="M763.9,240.0 L769.7,240.0 L775.6,246.8 L781.4,254.6 L789.2,260.4 L792.2,267.3 L788.3,269.2 L783.4,262.4 L777.5,256.5 L770.7,248.7 L763.9,241.9 Z" class="w"/>
<path d="M792.2,275.1 L799.0,273.1 L808.7,275.1 L816.5,277.0 L812.6,279.0 L804.8,279.0 L797.0,277.0 Z" class="w"/>
<path d="M802.9,251.7 L808.7,246.8 L817.5,242.9 L822.4,239.0 L826.3,238.0 L827.3,246.8 L824.3,254.6 L822.4,262.4 L817.5,265.3 L810.7,264.3 L806.8,260.4 L802.9,254.6 Z" class="w"/>
<path d="M832.1,252.6 L839.9,251.7 L840.9,253.6 L837.0,255.6 L839.0,266.3 L835.1,270.2 L832.1,264.3 L831.2,257.5 Z" class="w"/>
<path d="M833.1,202.9 L838.0,202.9 L839.9,214.6 L836.0,215.6 L833.1,209.7 Z" class="w"/>
<path d="M839.0,225.3 L845.8,225.3 L849.7,231.2 L846.8,240.0 L839.9,236.1 Z" class="w"/>
<path d="M826.3,227.3 L831.2,223.4" class="w"/>
<path d="M836.5,218.0 L840.0,221.0" class="w"/>
<path d="M832.1,279.9 L837.9,279.9" class="w"/>
<path d="M843.8,281.9 L851.6,279.0" class="w"/>
<path d="M817.0,280.0 L826.0,280.5" class="w"/>
<path d="M855.0,265.9 L860.6,265.2 L864.8,258.2 L869.0,259.6 L877.4,261.7 L887.2,262.4 L897.0,264.5 L903.9,268.0 L909.5,274.3 L913.7,282.0 L916.5,284.1 L911.0,284.7 L906.7,280.6 L901.1,277.8 L897.0,278.5 L892.1,282.0 L887.2,277.1 L882.3,272.2 L876.0,267.3 L869.0,265.2 L864.8,264.5 L860.6,265.2" class="w"/>
<path d="M912.3,272.2 L918.0,270.1 L920.7,268.0 L923.5,266.6" class="w"/>
<path d="M979.5,354.9 L985.3,363.1 L993.5,364.3 L987.7,372.5 L985.3,373.6 L983.0,366.6 Z" class="w"/>
<path d="M978.3,373.6 L981.8,375.3 L974.8,384.2 L967.8,388.8 L965.9,383.0 L970.1,380.7 Z" class="w"/>
<path d="M0.0,255.3 L28.4,255.3 L39.4,265.4" class="g"/>
<path d="M1.8,265.4 L51.3,265.4" class="g"/>
<path d="M51.3,248.0 L51.3,265.4" class="g"/>
<path d="M51.3,248.0 L75.1,248.0 L80.6,259.0 L81.6,265.4 L75.1,265.4 L61.4,272.7 L61.4,278.2" class="g"/>
<path d="M1.8,255.3 L1.8,265.4 L0.0,268.2" class="g"/>
<path d="M32.1,265.4 L32.1,303.9" class="g"/>
<path d="M10.1,278.2 L61.4,278.2" class="g"/>
<path d="M10.1,278.2 L10.1,297.5 L5.5,297.5" class="g"/>
<path d="M10.1,284.7 L32.1,284.7" class="g"/>
<path d="M17.4,284.7 L22.0,299.3 L22.9,303.9 L32.1,303.9" class="g"/>
<path d="M22.9,303.9 L23.8,323.1" class="g"/>
<path d="M32.1,288.3 L62.3,288.3 L63.2,290.2 L81.6,290.2 L83.4,287.4 L84.3,272.7 L83.4,265.4" class="g"/>
<path d="M61.4,278.2 L63.2,290.2 L63.2,313.1 L51.3,323.1 L0.0,323.1" class="g"/>
<path d="M0.0,290.2 L10.1,290.2" class="g"/>
<path d="M5.5,299.3 L0.9,321.3" class="g"/>
<path d="M84.3,272.7 L95.3,275.5 L119.1,275.5 L132.0,283.7 L132.0,329.6" class="g"/>
<path d="M132.0,318.6 L142.0,318.6 L153.0,329.6 L139.3,330.5 L128.3,334.1 L117.3,337.8 L95.3,338.7 L80.6,333.2 L63.2,323.1" class="g"/>
<path d="M890.7,255.4 L890.7,282.0 L901.1,286.1 L903.9,289.6 L938.9,292.4 L994.0,292.6" class="g"/>
<path d="M890.7,255.4 L944.5,255.4 L944.5,270.1 L930.5,277.1 L929.8,290.0" class="g"/>
<path d="M944.5,270.1 L969.7,270.1 L969.7,254.0 L980.9,244.2 L994.0,244.2" class="g"/>
<path d="M938.6,292.6 L938.6,313.7 L943.8,323.3 L994.0,323.3" class="g"/>
<path d="M982.4,323.3 L982.4,303.1 L975.4,287.4 L994.0,287.4" class="g"/>
<path d="M938.6,304.0 L954.4,304.0 L970.2,314.5 L982.4,314.5" class="g"/>
<path d="M703.0,122.0 L711.0,121.5" class="w"/>
<path d="M221.5,100.5 L225.0,100.0 L224.0,103.5 Z" class="w"/>
<path d="M62.7,197.3 L63.8,198.3" class="w"/>
<path d="M107.0,280.6 L108.0,281.6" class="w"/>
<path d="M242.2,254.6 L243.2,255.4" class="w"/>
<path d="M93.0,301.2 L93.8,302.0" class="w"/>
<path d="M106.0,311.8 L106.8,312.6" class="w"/>
<path d="M51.3,248.0 L50.9,241.5 L60.5,248.3" class="g"/>
<path d="M796.5,103.0 L803.5,95.5" class="w"/>
<path d="M640.3,177.3 L644.1,181.1 L642.0,181.5" class="w"/>
<path d="M994.0,197.4 L986.7,195.2 L901.9,195.2 L888.8,197.4 L888.8,205.5 L890.2,215.0 L904.1,215.0 L899.7,225.2 L910.7,233.2 L911.4,236.2 L909.2,249.3 L899.0,253.0 L891.0,255.2" class="g"/>
</g>
<g fill="#ffff00" shape-rendering="crispEdges"><rect x="768" y="85" width="5" height="5"/><rect x="777" y="90" width="9" height="5"/><rect x="781" y="95" width="9" height="4"/><rect x="785" y="99" width="9" height="4"/><rect x="789" y="103" width="9" height="5"/><rect x="793" y="108" width="9" height="4"/><rect x="798" y="112" width="9" height="3"/><rect x="802" y="115" width="9" height="5"/><rect x="806" y="120" width="9" height="4"/><rect x="810" y="124" width="9" height="4"/><rect x="814" y="128" width="9" height="10"/><rect x="818" y="138" width="10" height="3"/><rect x="823" y="141" width="9" height="10"/><rect x="827" y="151" width="9" height="8"/><rect x="831" y="159" width="9" height="8"/><rect x="835" y="167" width="9" height="9"/><rect x="839" y="176" width="9" height="8"/><rect x="843" y="184" width="10" height="9"/><rect x="848" y="193" width="9" height="13"/><rect x="852" y="206" width="9" height="13"/><rect x="856" y="219" width="9" height="8"/><rect x="860" y="227" width="9" height="13"/><rect x="864" y="240" width="9" height="13"/><rect x="868" y="253" width="9" height="13"/><rect x="873" y="266" width="8" height="14"/><rect x="877" y="280" width="9" height="12"/><rect x="881" y="292" width="9" height="8"/></g>
<g stroke="#ffff00" stroke-width="1" stroke-dasharray="1 1" shape-rendering="crispEdges">
<line x1="83.5" y1="64" x2="83.5" y2="447" />
<line x1="166.5" y1="64" x2="166.5" y2="447" />
<line x1="248.5" y1="64" x2="248.5" y2="447" />
<line x1="331.5" y1="64" x2="331.5" y2="447" />
<line x1="414.5" y1="64" x2="414.5" y2="447" />
<line x1="497.5" y1="64" x2="497.5" y2="447" />
<line x1="580.5" y1="64" x2="580.5" y2="447" />
<line x1="663.5" y1="64" x2="663.5" y2="447" />
<line x1="746.5" y1="64" x2="746.5" y2="447" />
<line x1="828.5" y1="64" x2="828.5" y2="447" />
<line x1="911.5" y1="64" x2="911.5" y2="447" />
<line x1="0" y1="84.5" x2="994" y2="84.5" />
<line x1="0" y1="169.5" x2="994" y2="169.5" />
<line x1="0" y1="254.5" x2="994" y2="254.5" />
<line x1="0" y1="340.5" x2="994" y2="340.5" />
<line x1="0" y1="426.5" x2="994" y2="426.5" />
</g>
<g>
<rect x="0" y="68" width="29" height="16" fill="#000"/>
<text x="4.1" y="81" class="lab" textLength="23.57" lengthAdjust="spacingAndGlyphs">60N</text>
<rect x="0" y="153" width="29" height="16" fill="#000"/>
<text x="4.1" y="166" class="lab" textLength="23.57" lengthAdjust="spacingAndGlyphs">30N</text>
<rect x="0" y="238" width="20" height="16" fill="#000"/>
<text x="4.1" y="251" class="lab" textLength="14.29" lengthAdjust="spacingAndGlyphs">00</text>
<rect x="0" y="324" width="29" height="16" fill="#000"/>
<text x="4.1" y="337" class="lab" textLength="22.86" lengthAdjust="spacingAndGlyphs">30S</text>
<rect x="0" y="410" width="29" height="16" fill="#000"/>
<text x="4.1" y="423" class="lab" textLength="22.86" lengthAdjust="spacingAndGlyphs">60S</text>
<text x="86.2" y="440.2" class="lab" textLength="33.57" lengthAdjust="spacingAndGlyphs">150W</text>
<text x="169.2" y="440.2" class="lab" textLength="33.57" lengthAdjust="spacingAndGlyphs">120W</text>
<text x="251.2" y="440.2" class="lab" textLength="26.42" lengthAdjust="spacingAndGlyphs">90W</text>
<text x="334.2" y="440.2" class="lab" textLength="26.42" lengthAdjust="spacingAndGlyphs">60W</text>
<text x="417.2" y="440.2" class="lab" textLength="26.42" lengthAdjust="spacingAndGlyphs">30W</text>
<text x="500.2" y="440.2" class="lab" textLength="14.29" lengthAdjust="spacingAndGlyphs">00</text>
<text x="583.2" y="440.2" class="lab" textLength="22.86" lengthAdjust="spacingAndGlyphs">30E</text>
<text x="666.2" y="440.2" class="lab" textLength="22.86" lengthAdjust="spacingAndGlyphs">60E</text>
<text x="749.2" y="440.2" class="lab" textLength="22.86" lengthAdjust="spacingAndGlyphs">90E</text>
<text x="831.2" y="440.2" class="lab" textLength="30.01" lengthAdjust="spacingAndGlyphs">120E</text>
<text x="914.2" y="440.2" class="lab" textLength="30.01" lengthAdjust="spacingAndGlyphs">150E</text>
</g>
<g class="t">
<text x="13.1" y="24.6" fill="#ffd400" xml:space="preserve" textLength="244.6" lengthAdjust="spacingAndGlyphs">Date : Monday, January 15, 2029</text>
<text x="639.0" y="24.6" fill="#ffd400" xml:space="preserve" textLength="314.0" lengthAdjust="spacingAndGlyphs">Crescent Moon Visibility : Ramadan  1450</text>
<text x="13.4" y="464.6" fill="#ffd400" xml:space="preserve" textLength="390.3" lengthAdjust="spacingAndGlyphs">New Moon : Sunday, January 14, 2029  17:24:07  UT</text>
<text x="557.2" y="464.6" fill="#ffff00" xml:space="preserve" textLength="395.6" lengthAdjust="spacingAndGlyphs">Yellow Line : Elongation = 8º  and Moon Altitude = 5º</text>
<text x="12.5" y="484.8" fill="#008c00" xml:space="preserve" textLength="236.6" lengthAdjust="spacingAndGlyphs">A: Easily visible with naked eye</text>
<text x="270.8" y="484.8" fill="#00d0d0" xml:space="preserve" textLength="226.0" lengthAdjust="spacingAndGlyphs">B: Visible if perfect conditions</text>
<text x="517.4" y="484.8" fill="#888888" xml:space="preserve" textLength="202.0" lengthAdjust="spacingAndGlyphs">C: Optical Aid to find moon</text>
<text x="738.5" y="484.8" fill="#ff0000" xml:space="preserve" textLength="226.8" lengthAdjust="spacingAndGlyphs">D: Visible with optical aid only</text>
<text x="13.8" y="504.7" fill="#ffffff" xml:space="preserve" textLength="232.7" lengthAdjust="spacingAndGlyphs">Criterion: Syed Khalid Shaukat</text>
<text x="579.0" y="504.7" fill="#ffffff" xml:space="preserve" textLength="391.0" lengthAdjust="spacingAndGlyphs">OmegaHilalSighting  (c)  Developed by Fawzi Kayali</text>
</g>
</svg>
</body></html>
